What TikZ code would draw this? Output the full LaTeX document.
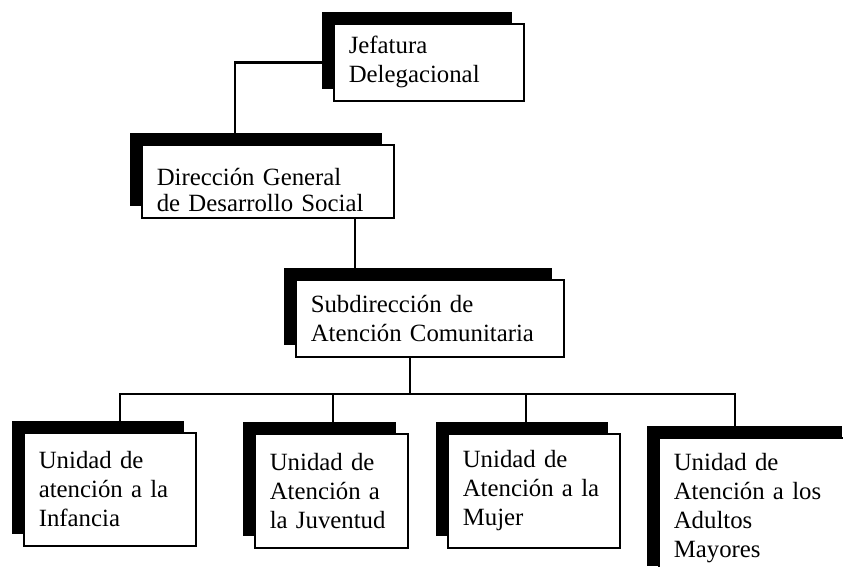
\documentclass[tikz,border=0pt]{standalone}
\usepackage{fontspec}
\setmainfont{Liberation Serif}
\usetikzlibrary{shadows}
\begin{document}
\begin{tikzpicture}[x=1pt,y=-1pt,
    box/.style={draw, line width=1.6pt, fill=white, anchor=north west, align=left,
      inner xsep=15pt, inner ysep=0pt, font=\fontsize{24.8}{29}\selectfont,
      drop shadow={shadow xshift=-12pt, shadow yshift=12pt, opacity=1, fill=black}},
    link/.style={line width=2.6pt}
  ]
  \clip (0,0) rectangle (843,566);
  \node[box, text width=160pt, minimum height=77pt] (jefe) at (333,23) {Jefatura\\Delegacional};
  \node[box, text width=222pt, minimum height=73pt, font=\fontsize{24.8}{26}\selectfont,
    text height=41pt, text depth=32pt] (dir) at (141,144) {Dirección General\\de Desarrollo Social};
  \node[box, text width=238pt, minimum height=77pt] (sub) at (295,279) {Subdirección de\\Atención Comunitaria};
  \node[box, text width=142pt, minimum height=113pt] (infa) at (23,432) {Unidad de\\atención a la\\Infancia};
  \node[box, text width=123pt, minimum height=114pt] (juve) at (254,433) {Unidad de\\Atención a\\la Juventud};
  \node[box, text width=142pt, minimum height=114pt] (muje) at (447,433) {Unidad de\\Atención a la\\Mujer};
  \node[box, text width=165pt, minimum height=140pt] (adul) at (658,437) {Unidad de\\Atención a los\\Adultos\\Mayores};

  \coordinate (bus) at (0,394);
  \path ([xshift=94pt]dir.north west) coordinate (tdir)
        ([xshift=60pt]sub.north west) coordinate (tsub)
        ([xshift=115pt]sub.south west) coordinate (bsub)
        ([xshift=97pt]infa.north west) coordinate (tinfa)
        ([xshift=79pt]juve.north west) coordinate (tjuve)
        ([xshift=79pt]muje.north west) coordinate (tmuje)
        ([xshift=77pt]adul.north west) coordinate (tadul);

  \draw[link] (jefe.west) -| (tdir);
  \draw[link] (tsub |- dir.south) -- (tsub);
  \draw[link] (bsub) -- (bsub |- bus);
  \draw[link] (tinfa) |- (tadul |- bus) -- (tadul);
  \foreach \t in {tjuve,tmuje}
    \draw[link] (\t) -- (\t |- bus);
\end{tikzpicture}
\end{document}
